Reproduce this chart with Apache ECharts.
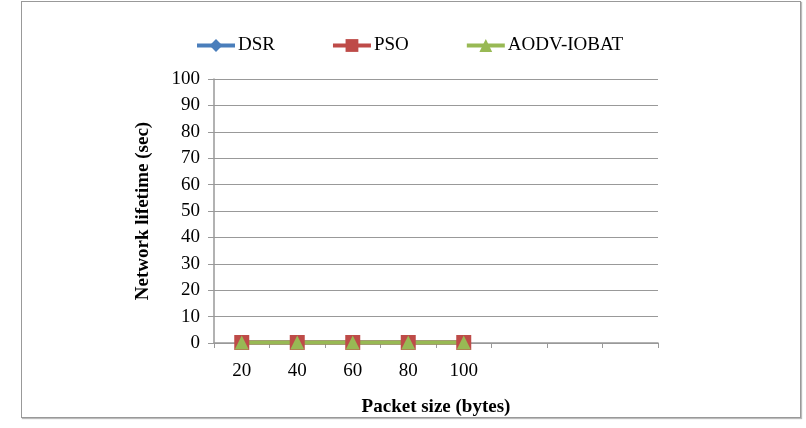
<!DOCTYPE html>
<html>
<head>
<meta charset="utf-8">
<script src="https://cdn.jsdelivr.net/npm/echarts@6/dist/echarts.min.js"></script>
<style>
  html, body { margin: 0; padding: 0; background: #fff; }
  #frame { position: absolute; left: 21px; top: 1px; width: 778px; height: 415px; border: 1px solid #999; box-shadow: 1px 1px 1px #bbb; }
  #chart { position: absolute; left: 0; top: 0; width: 806px; height: 428px; }
</style>
</head>
<body>
<div id="frame"></div>
<div id="chart"></div>
<script>
// packet sizes (last three slots are empty in the original)
const packetSizes = ['20', '40', '60', '80', '100', '', '', ''];
const dsr = [0.2, 0.2, 0.2, 0.2, 0.2];
const pso = [0.2, 0.2, 0.2, 0.2, 0.2];
const aodvIobat = [0.2, 0.2, 0.2, 0.2, 0.2];

const serif = '"Liberation Serif", "DejaVu Serif", serif';

const chart = echarts.init(document.getElementById('chart'), null, { renderer: 'canvas' });

const option = {
  animation: false,
  textStyle: { fontFamily: serif },
  legend: {
    left: 190,
    top: 31,
    itemWidth: 38,
    itemHeight: 16,
    itemGap: 56,
    lineStyle: { width: 4 },
    textStyle: { fontFamily: serif, fontSize: 19, color: '#000', padding: [0, 0, 0, -2] },
    data: ['DSR', 'PSO', 'AODV-IOBAT']
  },
  grid: { left: 214, right: 148, top: 79, bottom: 85 },
  xAxis: {
    type: 'category',
    data: packetSizes,
    boundaryGap: true,
    name: 'Packet size (bytes)',
    nameLocation: 'middle',
    nameGap: 55,
    nameTextStyle: { fontFamily: serif, fontSize: 19, fontWeight: 'bold', color: '#000' },
    axisLine: { lineStyle: { color: '#999', width: 1.5 } },
    axisTick: { show: true, length: 5, alignWithLabel: false, lineStyle: { color: '#999' } },
    axisLabel: { fontFamily: serif, fontSize: 19, color: '#000', margin: 19 }
  },
  yAxis: {
    type: 'value',
    min: 0,
    max: 100,
    interval: 10,
    name: 'Network lifetime (sec)',
    nameLocation: 'middle',
    nameGap: 61,
    nameTextStyle: { fontFamily: serif, fontSize: 19, fontWeight: 'bold', color: '#000' },
    axisLine: { show: true, lineStyle: { color: '#999', width: 1.5 } },
    axisTick: { show: true, length: 6, lineStyle: { color: '#999' } },
    axisLabel: { fontFamily: serif, fontSize: 19, color: '#000', margin: 14 },
    splitLine: { lineStyle: { color: '#999', width: 1 } }
  },
  series: [
    {
      name: 'DSR', type: 'line', data: dsr,
      symbol: 'diamond', symbolSize: 13,
      itemStyle: { color: '#4A7EBB' },
      lineStyle: { color: '#4A7EBB', width: 4 }
    },
    {
      name: 'PSO', type: 'line', data: pso,
      symbol: 'rect', symbolSize: 15,
      itemStyle: { color: '#BE4B48' },
      lineStyle: { color: '#BE4B48', width: 4 }
    },
    {
      name: 'AODV-IOBAT', type: 'line', data: aodvIobat,
      symbol: 'triangle', symbolSize: 14,
      itemStyle: { color: '#98B954' },
      lineStyle: { color: '#98B954', width: 4 }
    }
  ]
};

chart.setOption(option);
</script>
</body>
</html>
